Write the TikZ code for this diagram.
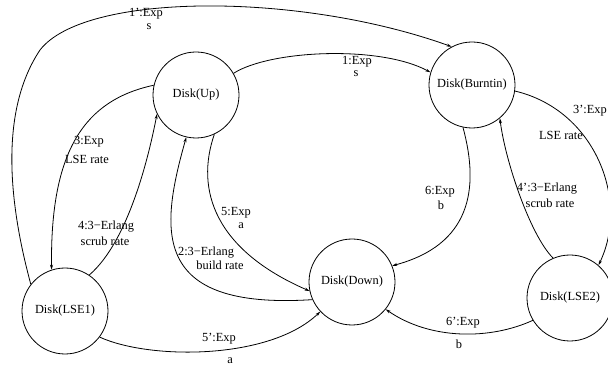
\documentclass[tikz,border=0pt]{standalone}
\usepackage{fontspec}
\setmainfont{Liberation Serif}
\usetikzlibrary{arrows.meta}
\begin{document}
\begin{tikzpicture}[x=1pt,y=-1pt,
  state/.style={draw,circle,minimum size=86pt,inner sep=0pt,line width=0.8pt,font=\fontsize{12.4}{14}\selectfont},
  lbl/.style={inner sep=0pt,font=\fontsize{12.4}{14}\selectfont},
  edge/.style={line width=0.8pt,-{Stealth[length=5pt,width=3pt]}}]
\useasboundingbox (0,0) rectangle (608,371);
\node[state] (up) at (196,95) {Disk(Up)};
\node[state] (burn) at (472,85) {Disk(Burntin)};
\node[state] (lse1) at (65,311) {Disk(LSE1)};
\node[state] (down) at (352,282) {Disk(Down)};
\node[state] (lse2) at (570,298) {Disk(LSE2)};
% 1'
\draw[edge] (lse1.142) .. controls (8,200) and (0,110) .. (40,50) .. controls (85,-8) and (300,-8) .. (burn.118);
% 1
\draw[edge] (up.30) .. controls (270,50) and (380,45) .. (burn.163);
% 3'
\draw[edge] (burn.-8) .. controls (595,110) and (630,200) .. (lse2.49);
% 4'
\draw[edge] (lse2.113) .. controls (530,235) and (505,160) .. (burn.-50);
% 6
\draw[edge] (burn.-102) .. controls (480,190) and (470,245) .. (down.22);
% 6'
\draw[edge] (lse2.211) .. controls (490,340) and (430,340) .. (down.-39);
% 5'
\draw[edge] (lse1.-37) .. controls (150,360) and (270,360) .. (down.-137);
% 2
\draw[edge] (down.204) .. controls (150,310) and (160,230) .. (up.-103);
% 5
\draw[edge] (up.-65) .. controls (195,190) and (215,250) .. (down.192);
% 3
\draw[edge] (up.167) .. controls (85,100) and (50,150) .. (lse1.108);
% 4
\draw[edge] (lse1.56) .. controls (130,240) and (150,150) .. (up.206);
% labels
\node[lbl] (l1pa) at (146,14) {1’:Exp};
\node[lbl] (l1pb) at (149,27) {s};
\node[lbl] (l1a) at (357,62) {1:Exp};
\node[lbl] (l1b) at (356,74) {s};
\node[lbl] (l3pa) at (590,111) {3’:Exp};
\node[lbl] (l3pb) at (561,135) {LSE rate};
\node[lbl] (l6a) at (440,192) {6:Exp};
\node[lbl] (l6b) at (441,205) {b};
\node[lbl] (l4pa) at (547,189) {4’:3−Erlang};
\node[lbl] (l4pb) at (550,203) {scrub rate};
\node[lbl] (l6pa) at (463,323) {6’:Exp};
\node[lbl] (l6pb) at (459,344) {b};
\node[lbl] (l3a) at (89,142) {3:Exp};
\node[lbl] (l3b) at (87,159) {LSE rate};
\node[lbl] (l4a) at (106,227) {4:3−Erlang};
\node[lbl] (l4b) at (105,241) {scrub rate};
\node[lbl] (l5a) at (236,213) {5:Exp};
\node[lbl] (l5b) at (241,226) {a};
\node[lbl] (l2a) at (206,253) {2:3−Erlang};
\node[lbl] (l2b) at (220,265) {build rate};
\node[lbl] (l5pa) at (219,339) {5’:Exp};
\node[lbl] (l5pb) at (230,361) {a};
\end{tikzpicture}
\end{document}
